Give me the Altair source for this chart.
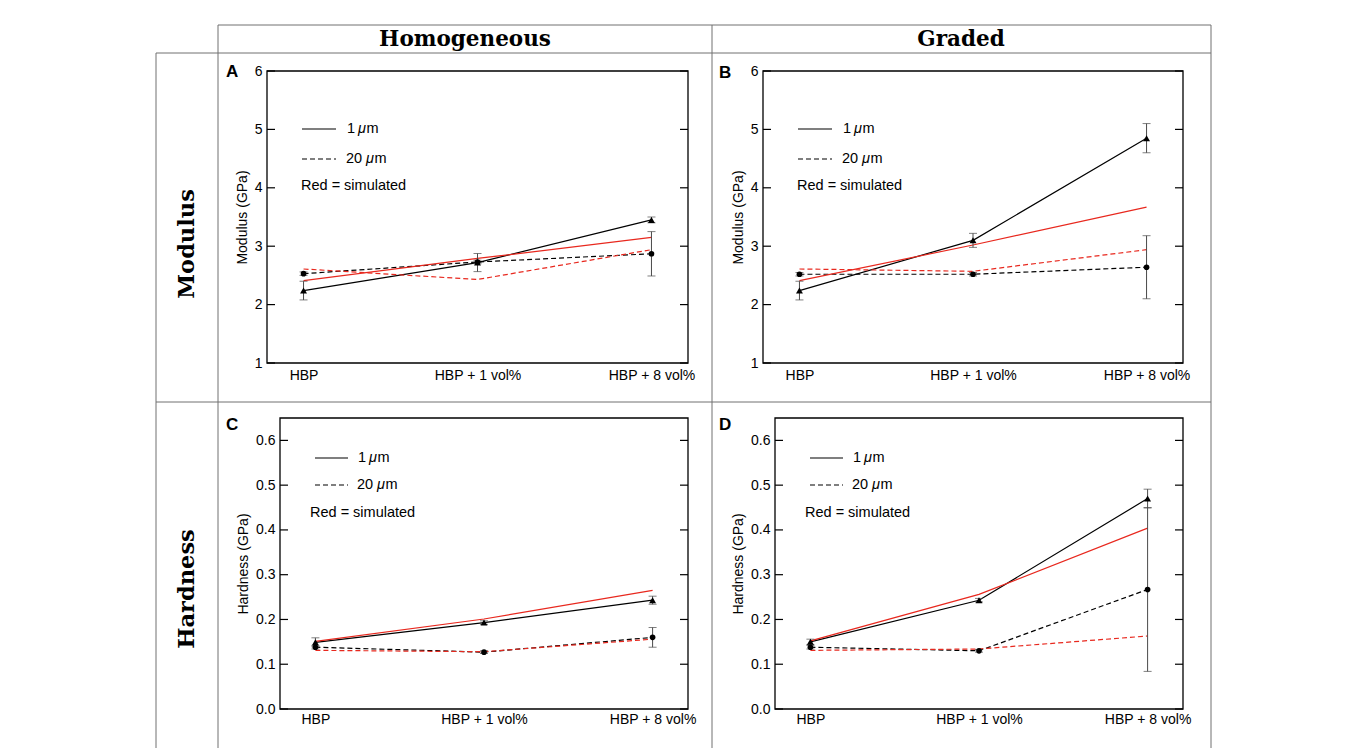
import altair as alt
import pandas as pd

categories = ["HBP", "HBP + 1 vol%", "HBP + 8 vol%"]

# Panel A: Modulus, homogeneous
A_exp_1um = [2.24, 2.72, 3.45]
A_err_1um = [0.16, 0.155, 0.05]
A_exp_20um = [2.53, 2.73, 2.87]
A_err_20um = [0.03, 0.03, 0.38]
A_sim_1um = [2.41, 2.79, 3.15]
A_sim_20um = [2.61, 2.43, 2.94]

# Panel B: Modulus, graded
B_exp_1um = [2.24, 3.10, 4.85]
B_err_1um = [0.16, 0.12, 0.25]
B_exp_20um = [2.52, 2.52, 2.64]
B_err_20um = [0.03, 0.03, 0.54]
B_sim_1um = [2.41, 3.02, 3.67]
B_sim_20um = [2.61, 2.57, 2.94]

# Panel C: Hardness, homogeneous
C_exp_1um = [0.149, 0.193, 0.243]
C_err_1um = [0.010, 0.004, 0.009]
C_exp_20um = [0.138, 0.127, 0.160]
C_err_20um = [0.004, 0.003, 0.022]
C_sim_1um = [0.151, 0.201, 0.265]
C_sim_20um = [0.131, 0.128, 0.156]

# Panel D: Hardness, graded
D_exp_1um = [0.150, 0.243, 0.470]
D_err_1um = [0.006, 0.004, 0.021]
D_exp_20um = [0.138, 0.130, 0.267]
D_err_20um = [0.004, 0.003, 0.183]
D_sim_1um = [0.152, 0.256, 0.404]
D_sim_20um = [0.131, 0.134, 0.163]

modulus_ticks = [1, 2, 3, 4, 5, 6]
hardness_ticks = [0.0, 0.1, 0.2, 0.3, 0.4, 0.5, 0.6]

col_headers = ["Homogeneous", "Graded"]
row_headers = ["Modulus", "Hardness"]
panel_letters = ["A", "B", "C", "D"]

RED = "#e8281e"
ERR = "#4a4a4a"
GRID = "#707070"
SANS = "Liberation Sans"
SERIF = "DejaVu Serif"


def make_df(exp1, err1, exp20, err20, sim1, sim20):
    rows = []
    for i, c in enumerate(categories):
        rows.append(dict(cat=c, series="exp1", value=exp1[i], lo=exp1[i] - err1[i], hi=exp1[i] + err1[i]))
        rows.append(dict(cat=c, series="exp20", value=exp20[i], lo=exp20[i] - err20[i], hi=exp20[i] + err20[i]))
        rows.append(dict(cat=c, series="sim1", value=sim1[i], lo=sim1[i], hi=sim1[i]))
        rows.append(dict(cat=c, series="sim20", value=sim20[i], lo=sim20[i], hi=sim20[i]))
    return pd.DataFrame(rows)


one = pd.DataFrame({"a": [0]})


def txt(x, y, s, size=14.5, font=SANS, weight="normal", style="normal", angle=0, align="left"):
    return alt.Chart(one).mark_text(
        align=align, baseline="middle", fontSize=size, font=font, fontWeight=weight,
        fontStyle=style, angle=angle, color="black"
    ).encode(x=alt.value(x), y=alt.value(y), text=alt.value(s))


def hrule(x1, x2, y, color="black", width=1.2, dash=None):
    kw = dict(color=color, strokeWidth=width)
    if dash:
        kw["strokeDash"] = dash
    return alt.Chart(one).mark_rule(**kw).encode(x=alt.value(x1), x2=alt.value(x2), y=alt.value(y))


def vrule(x, y1, y2, color=GRID, width=1):
    return alt.Chart(one).mark_rule(color=color, strokeWidth=width).encode(
        x=alt.value(x), y=alt.value(y1), y2=alt.value(y2))


def panel(df, ydom, yticks, yfmt, ytitle, ox, PW, H, leg, letter, lpos, xpad, extra=()):
    W = ox + PW
    X = alt.X("cat:N", sort=categories,
              scale=alt.Scale(type="point", padding=0.21, range=[ox, W]),
              axis=alt.Axis(title=None, labelAngle=0, ticks=False, domain=False, grid=False,
                            labelPadding=xpad))

    def Y(field):
        return alt.Y(field + ":Q", scale=alt.Scale(domain=ydom, nice=False, zero=False),
                     axis=alt.Axis(values=yticks, format=yfmt, title=ytitle, ticks=False,
                                   domain=False, grid=False, labelPadding=5, titlePadding=5,
                                   offset=-ox))

    base = alt.Chart(df)
    layers = []

    def line(series, color, dash=None):
        kw = dict(color=color, strokeWidth=1.2)
        if dash:
            kw["strokeDash"] = dash
        return base.transform_filter(alt.datum.series == series).mark_line(**kw).encode(
            x=X, y=Y("value"))

    layers.append(line("exp1", "black"))
    layers.append(line("exp20", "black", [5, 3]))
    layers.append(line("sim1", RED))
    layers.append(line("sim20", RED, [5, 3]))

    exp = base.transform_filter((alt.datum.series == "exp1") | (alt.datum.series == "exp20"))
    layers.append(exp.mark_rule(color=ERR, strokeWidth=1).encode(x=X, y=Y("lo"), y2="hi:Q"))
    layers.append(exp.mark_tick(color=ERR, thickness=1, size=8).encode(x=X, y=Y("lo")))
    layers.append(exp.mark_tick(color=ERR, thickness=1, size=8).encode(x=X, y=Y("hi")))
    layers.append(base.transform_filter(alt.datum.series == "exp1").mark_point(
        shape="triangle-up", filled=True, color="black", size=48, opacity=1).encode(x=X, y=Y("value")))
    layers.append(base.transform_filter(alt.datum.series == "exp20").mark_point(
        shape="circle", filled=True, color="black", size=32, opacity=1).encode(x=X, y=Y("value")))

    tdf = pd.DataFrame({"t": yticks})
    layers.append(alt.Chart(tdf).mark_rule(color="black", strokeWidth=1.2).encode(
        x=alt.value(ox), x2=alt.value(ox + 8), y=Y("t")))
    layers.append(alt.Chart(tdf).mark_rule(color="black", strokeWidth=1.2).encode(
        x=alt.value(W - 8), x2=alt.value(W), y=Y("t")))

    # plot frame
    layers.append(alt.Chart(one).mark_rect(fillOpacity=0, stroke="black", strokeWidth=1.3).encode(
        x=alt.value(ox), x2=alt.value(W), y=alt.value(0), y2=alt.value(H)))

    lx1, lx2, y1, y2, tx, rx, ry = leg
    layers.append(hrule(ox + lx1, ox + lx2, y1))
    layers.append(hrule(ox + lx1, ox + lx2, y2, dash=[5, 3]))
    layers.append(txt(ox + tx + 1, y1, "1"))
    layers.append(txt(ox + tx + 12, y1, "\u03bc", style="italic"))
    layers.append(txt(ox + tx + 20.5, y1, "m"))
    layers.append(txt(ox + tx, y2, "20"))
    layers.append(txt(ox + tx + 20, y2, "\u03bc", style="italic"))
    layers.append(txt(ox + tx + 28.5, y2, "m"))
    layers.append(txt(ox + rx, ry, "Red = simulated"))

    layers.append(txt(ox + lpos[0], lpos[1], letter, size=17, weight="bold", align="left"))
    layers.extend(extra)
    return alt.layer(*layers).properties(width=W, height=H)


# table frame, header and row labels (relative to panel A origin)
frame = [
    hrule(-49, 944, -46, color=GRID, width=1),
    hrule(-111, 944, -18, color=GRID, width=1),
    hrule(-111, 944, 331, color=GRID, width=1),
    vrule(-111, -18, 677),
    vrule(-49, -46, 677),
    vrule(445, -46, 677),
    vrule(944, -46, 677),
    txt(198, -31, col_headers[0], size=21.5, font=SERIF, weight="bold", align="center"),
    txt(694, -31, col_headers[1], size=21.5, font=SERIF, weight="bold", align="center"),
    txt(-80, 173, row_headers[0], size=22.5, font=SERIF, weight="bold", align="center", angle=270),
    txt(-80, 518, row_headers[1], size=22.5, font=SERIF, weight="bold", align="center", angle=270),
]

leg1 = (35, 69, 58, 88, 79, 34, 115)
leg2 = (35, 68, 40, 67, 77, 30, 95)

pA = panel(make_df(A_exp_1um, A_err_1um, A_exp_20um, A_err_20um, A_sim_1um, A_sim_20um),
           [1, 6], modulus_ticks, "d", "Modulus (GPa)", 0, 421, 292, leg1, panel_letters[0], (-41, 1), 5, frame)
pB = panel(make_df(B_exp_1um, B_err_1um, B_exp_20um, B_err_20um, B_sim_1um, B_sim_20um),
           [1, 6], modulus_ticks, "d", "Modulus (GPa)", 0, 420, 292, leg1, panel_letters[1], (-44, 2), 5)
pC = panel(make_df(C_exp_1um, C_err_1um, C_exp_20um, C_err_20um, C_sim_1um, C_sim_20um),
           [0, 0.65], hardness_ticks, ".1f", "Hardness (GPa)", 13, 408, 291, leg2, panel_letters[2], (-54, 7), 3)
pD = panel(make_df(D_exp_1um, D_err_1um, D_exp_20um, D_err_20um, D_sim_1um, D_sim_20um),
           [0, 0.65], hardness_ticks, ".1f", "Hardness (GPa)", 12, 408, 291, leg2, panel_letters[3], (-56, 7), 3)

chart = alt.concat(pA, pB, pC, pD, columns=2, bounds="flush",
                   spacing={"row": 55, "column": 75}).properties(
    padding={"left": 147, "top": 16, "right": 5, "bottom": 0},
    background="white"
).configure_view(stroke=None).configure_axis(
    labelFont=SANS, labelFontSize=14, labelColor="black",
    titleFont=SANS, titleFontSize=14, titleFontWeight="normal", titleColor="black"
)

chart.save("out.html", embed_options={"renderer": "svg", "actions": False})
